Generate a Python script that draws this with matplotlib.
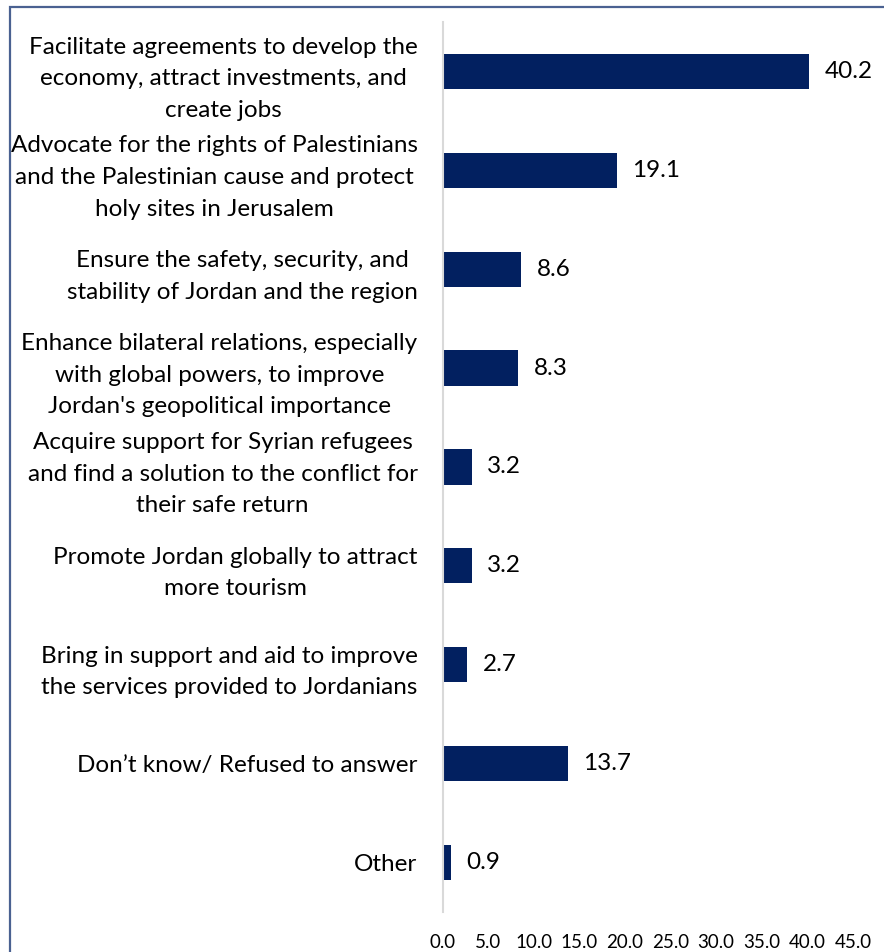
import matplotlib.pyplot as plt
from matplotlib.patches import Rectangle

# Survey shares (%) for each stated priority, top to bottom
categories = [
    "Facilitate agreements to develop the\neconomy, attract investments, and\ncreate jobs",
    "Advocate for the rights of Palestinians\nand the Palestinian cause and protect\nholy sites in Jerusalem",
    "Ensure the safety, security, and\nstability of Jordan and the region",
    "Enhance bilateral relations, especially\nwith global powers, to improve\nJordan's geopolitical importance",
    "Acquire support for Syrian refugees\nand find a solution to the conflict for\ntheir safe return",
    "Promote Jordan globally to attract\nmore tourism",
    "Bring in support and aid to improve\nthe services provided to Jordanians",
    "Don\u2019t know/ Refused to answer",
    "Other",
]
values = [40.2, 19.1, 8.6, 8.3, 3.2, 3.2, 2.7, 13.7, 0.9]
xticks = [0, 5, 10, 15, 20, 25, 30, 35, 40, 45]

bar_color = "#022060"

plt.rcParams["font.family"] = ["Lato", "DejaVu Sans"]

fig = plt.figure(figsize=(8.84, 9.52), dpi=100)
ax = fig.add_axes([0.5006, 0.042, 0.4644, 0.935])

ypos = list(range(len(categories)))
ax.barh(ypos, values, height=0.355, color=bar_color)
ax.set_ylim(len(categories) - 0.5, -0.5)
ax.set_xlim(0, 45)

ax.set_yticks(ypos)
ax.set_yticklabels(categories, fontsize=17.5, ha="right", multialignment="center",
                   linespacing=1.62)
ax.tick_params(axis="y", length=0, pad=18)

ax.set_xticks(xticks)
ax.set_xticklabels([f"{t:.1f}" for t in xticks], fontsize=13.5)
ax.tick_params(axis="x", length=0, pad=16)

for y, v in zip(ypos, values):
    ax.text(v + 1.7, y, f"{v:.1f}", va="center", ha="left", fontsize=17.5)

for side in ["top", "right", "bottom"]:
    ax.spines[side].set_visible(False)
ax.spines["left"].set_color("#D9D9D9")
ax.spines["left"].set_linewidth(1.5)

# outer frame, clipped at the right and bottom edges
frame = Rectangle((10 / 884, -0.1), 1.2, 1 - 7 / 952 + 0.1, transform=fig.transFigure,
                  fill=False, edgecolor="#4A6191", linewidth=1.6)
fig.patches.append(frame)

fig.savefig("out.png", dpi=100)
